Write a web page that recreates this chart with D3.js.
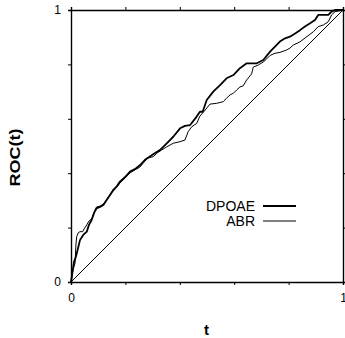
<!DOCTYPE html>
<html>
<head>
<meta charset="utf-8">
<script src="https://cdn.jsdelivr.net/npm/d3@7"></script>
<style>
  html, body { margin: 0; padding: 0; background: #fff; }
  svg { display: block; }
  text { font-family: "Liberation Sans", Arial, sans-serif; fill: #000; }
</style>
</head>
<body>
<svg id="chart" width="345" height="338"></svg>
<script>
// ROC curves: false-positive fraction t vs. ROC(t)
const dpoaeT = [0,0.004,0.011,0.018,0.026,0.033,0.045,0.058,0.066,0.076,0.085,0.094,0.107,0.119,0.136,0.156,0.169,0.180,0.199,0.217,0.235,0.254,0.272,0.290,0.309,0.327,0.352,0.376,0.401,0.419,0.438,0.462,0.474,0.484,0.499,0.523,0.548,0.572,0.597,0.621,0.646,0.683,0.707,0.732,0.750,0.768,0.787,0.805,0.824,0.842,0.860,0.879,0.897,0.909,0.946,0.958,0.971,1];
const dpoaeRoc = [0,0.026,0.074,0.093,0.125,0.154,0.173,0.185,0.210,0.228,0.254,0.271,0.276,0.283,0.309,0.338,0.353,0.369,0.386,0.406,0.415,0.430,0.449,0.461,0.474,0.485,0.510,0.534,0.565,0.574,0.577,0.608,0.626,0.626,0.669,0.700,0.724,0.749,0.761,0.786,0.804,0.804,0.816,0.847,0.865,0.884,0.896,0.902,0.914,0.926,0.939,0.951,0.963,0.982,0.982,0.994,1,1];

const abrT = [0,0.007,0.015,0.018,0.021,0.026,0.033,0.043,0.048,0.058,0.066,0.076,0.085,0.094,0.107,0.119,0.136,0.156,0.169,0.180,0.199,0.217,0.235,0.254,0.266,0.283,0.303,0.316,0.333,0.352,0.376,0.401,0.419,0.431,0.444,0.462,0.474,0.493,0.511,0.536,0.560,0.572,0.585,0.597,0.609,0.621,0.633,0.646,0.664,0.670,0.689,0.707,0.719,0.732,0.750,0.768,0.793,0.805,0.817,0.842,0.867,0.891,0.909,0.928,0.946,0.958,0.971,1];
const abrRoc = [0,0.044,0.070,0.136,0.167,0.180,0.185,0.185,0.195,0.210,0.224,0.232,0.257,0.276,0.279,0.287,0.309,0.342,0.349,0.364,0.382,0.401,0.412,0.423,0.438,0.456,0.461,0.474,0.485,0.497,0.510,0.516,0.522,0.553,0.571,0.583,0.610,0.632,0.654,0.657,0.663,0.676,0.688,0.694,0.706,0.717,0.721,0.743,0.765,0.790,0.798,0.809,0.820,0.833,0.841,0.844,0.853,0.860,0.871,0.883,0.902,0.920,0.939,0.945,0.957,0.982,0.994,1];

const chanceT = [0, 1];
const chanceRoc = [0, 1];

const tickValues = [0, 0.2, 0.4, 0.6, 0.8, 1];
const tickLabels = ["0", "", "", "", "", "1"];
const seriesNames = ["DPOAE", "ABR"];

const svg = d3.select("#chart");
const plotLeft = 71, plotTop = 10, plotSize = 272;

const x = d3.scaleLinear().domain([0, 1]).range([plotLeft, plotLeft + plotSize]);
const y = d3.scaleLinear().domain([0, 1]).range([plotTop + plotSize, plotTop]);

const fmt = d => tickLabels[tickValues.indexOf(d)];

function styleAxis(g) {
  g.select(".domain").attr("stroke", "#000").attr("stroke-width", 1.4);
  g.selectAll(".tick line").attr("stroke", "#000").attr("stroke-width", 1);
  g.selectAll(".tick text").attr("font-size", 12).attr("font-family", "Liberation Sans, Arial, sans-serif");
}

svg.append("g").attr("transform", `translate(0,${plotTop + plotSize})`)
  .call(d3.axisBottom(x).tickValues(tickValues).tickFormat(fmt).tickSize(3).tickPadding(8))
  .call(styleAxis);
svg.append("g").attr("transform", `translate(${plotLeft},0)`)
  .call(d3.axisLeft(y).tickValues(tickValues).tickFormat(fmt).tickSize(3).tickPadding(7))
  .call(styleAxis);
svg.append("g").attr("transform", `translate(0,${plotTop})`)
  .call(d3.axisTop(x).tickValues(tickValues).tickFormat("").tickSize(3))
  .call(styleAxis);
svg.append("g").attr("transform", `translate(${plotLeft + plotSize},0)`)
  .call(d3.axisRight(y).tickValues(tickValues).tickFormat("").tickSize(3))
  .call(styleAxis);

const line = d3.line().x(d => x(d[0])).y(d => y(d[1]));

svg.append("path")
  .datum(d3.zip(chanceT, chanceRoc))
  .attr("d", line).attr("fill", "none").attr("stroke", "#000").attr("stroke-width", 1);

svg.append("path")
  .datum(d3.zip(abrT, abrRoc))
  .attr("d", line).attr("fill", "none").attr("stroke", "#000").attr("stroke-width", 1)
  .attr("stroke-linejoin", "round");

svg.append("path")
  .datum(d3.zip(dpoaeT, dpoaeRoc))
  .attr("d", line).attr("fill", "none").attr("stroke", "#000").attr("stroke-width", 1.8)
  .attr("stroke-linejoin", "round");

// legend
const legend = svg.append("g");
const legendRows = [{ name: seriesNames[0], w: 1.8, yy: 206 }, { name: seriesNames[1], w: 1, yy: 221 }];
legendRows.forEach(r => {
  legend.append("text").attr("x", 255).attr("y", r.yy + 5).attr("text-anchor", "end")
    .attr("font-size", 14).text(r.name);
  legend.append("line").attr("x1", 263).attr("x2", 296).attr("y1", r.yy).attr("y2", r.yy)
    .attr("stroke", "#000").attr("stroke-width", r.w);
});

// axis titles
svg.append("text").attr("x", 206.5).attr("y", 335).attr("text-anchor", "middle")
  .attr("font-size", 15).attr("font-weight", "bold").text("t");
svg.append("text").attr("transform", "translate(20,157.5) rotate(-90)")
  .attr("text-anchor", "middle").attr("font-size", 15).attr("font-weight", "bold")
  .attr("textLength", 58).attr("lengthAdjust", "spacingAndGlyphs")
  .text("ROC(t)");
</script>
</body>
</html>
